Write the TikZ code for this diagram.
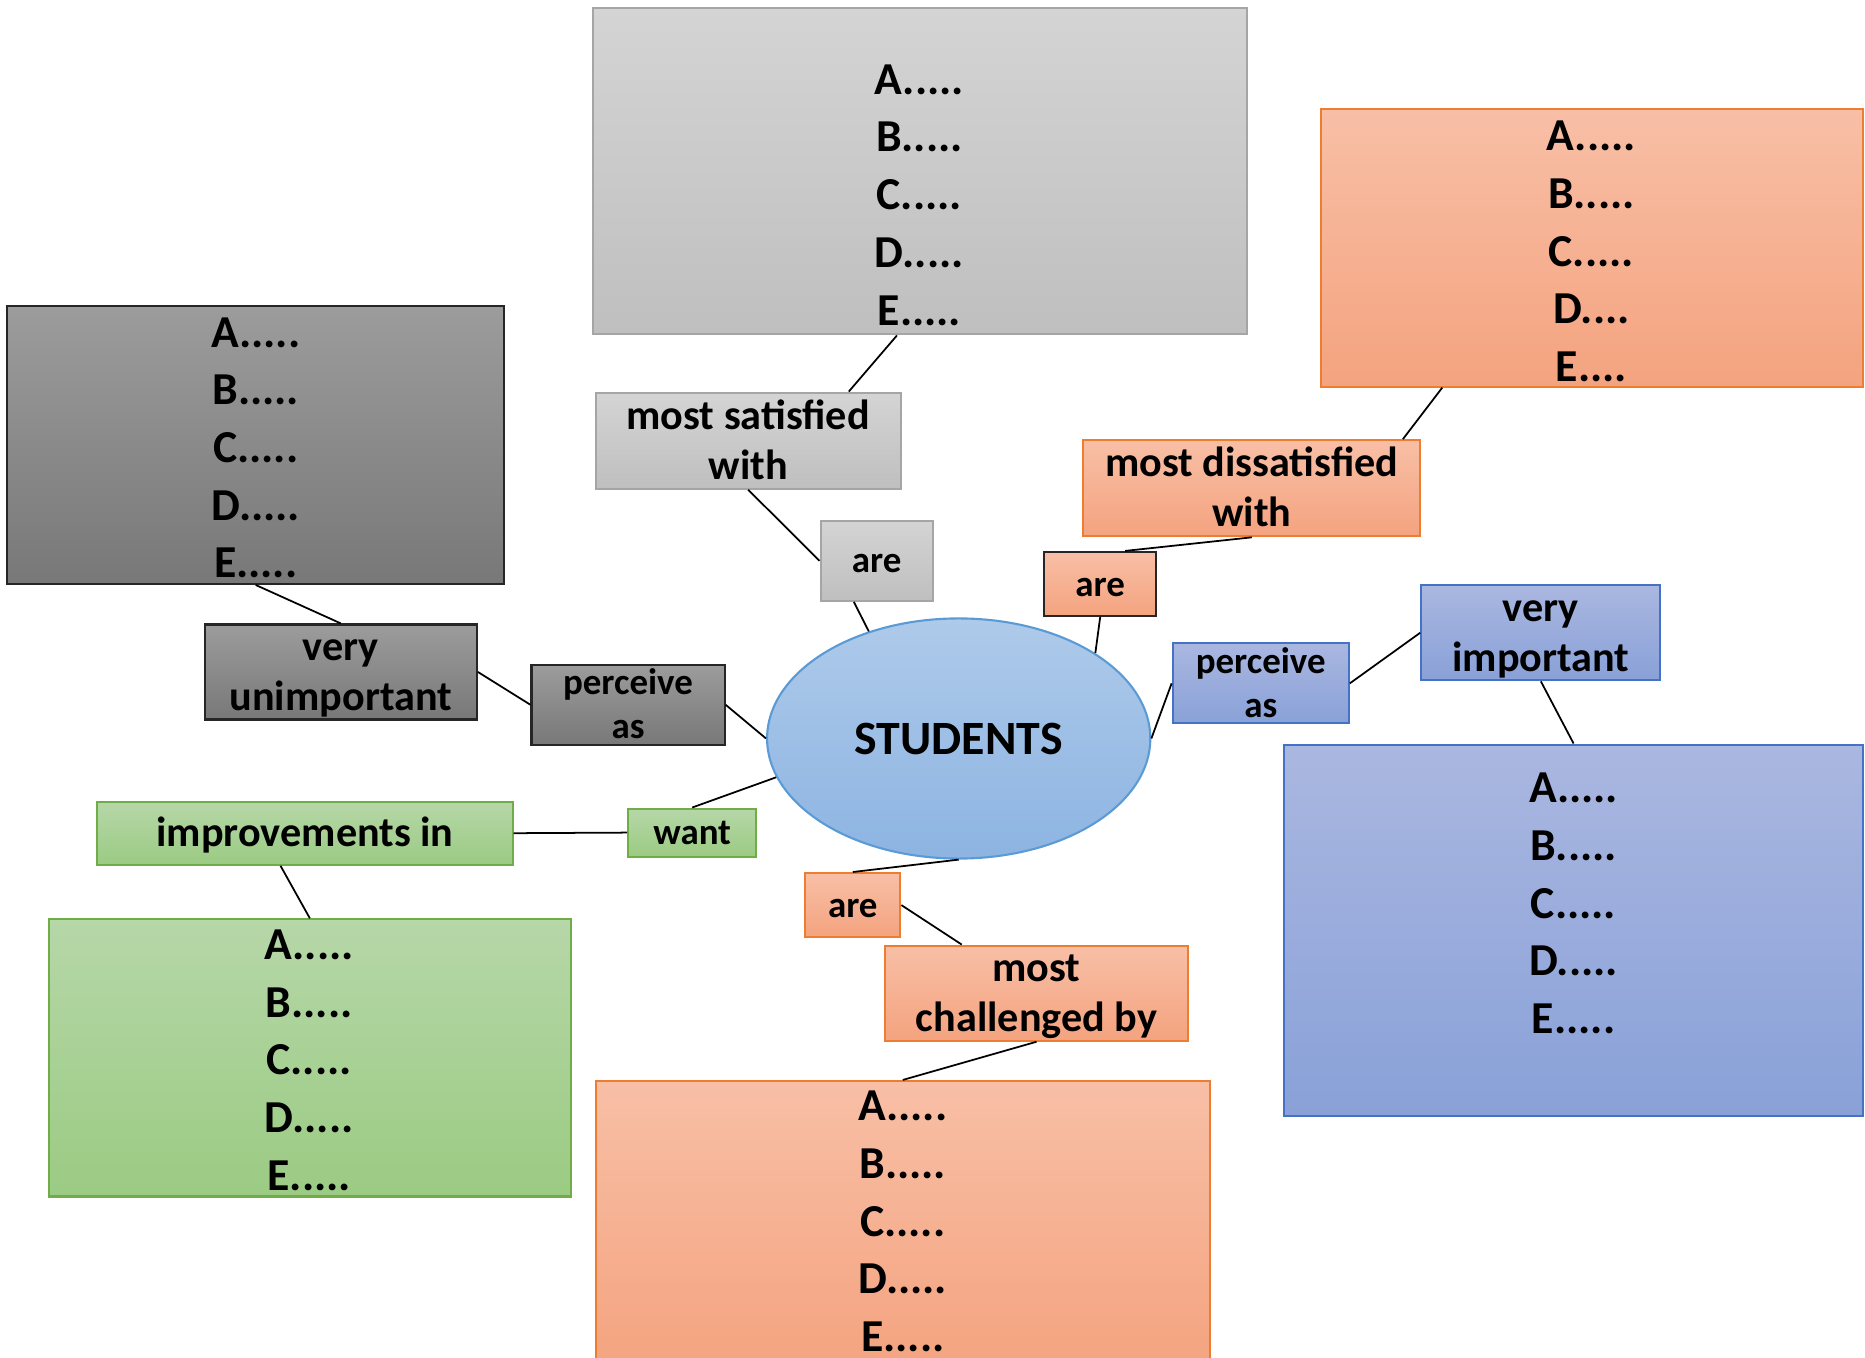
\documentclass[tikz,border=0pt]{standalone}
\usepackage{fontspec}
\setmainfont{Carlito}
\usetikzlibrary{shapes.geometric}

\definecolor{lgtop}{HTML}{D4D4D4}
\definecolor{lgbot}{HTML}{BFBFBF}
\definecolor{lgline}{HTML}{A5A5A5}
\definecolor{dgtop}{HTML}{9C9C9C}
\definecolor{dgbot}{HTML}{787878}
\definecolor{dgline}{HTML}{262626}
\definecolor{ortop}{HTML}{F8BFA6}
\definecolor{orbot}{HTML}{F4A37F}
\definecolor{orline}{HTML}{ED7D31}
\definecolor{bltop}{HTML}{AAB7E0}
\definecolor{blbot}{HTML}{89A1D8}
\definecolor{blline}{HTML}{4472C4}
\definecolor{eltop}{HTML}{AECAEA}
\definecolor{elbot}{HTML}{8DB4E2}
\definecolor{elline}{HTML}{5B9BD5}
\definecolor{grtop}{HTML}{B6D7A8}
\definecolor{grbot}{HTML}{9BCB83}
\definecolor{grline}{HTML}{70AD47}

\begin{document}
\begin{tikzpicture}[x=0.01cm,y=-0.01cm,
  box/.style={rectangle,inner sep=0pt,line width=0.6pt},
  lst/.style={font=\bfseries\fontsize{13}{16.4}\selectfont,align=center,inner sep=0pt},
  lbl/.style={box,font=\bfseries\fontsize{12}{14.2}\selectfont,align=center},
  sml/.style={box,font=\bfseries\fontsize{10.5}{12.5}\selectfont,align=center},
  one/.style={execute at begin node={\rule{0pt}{10.8pt}},execute at end node={\rule[-3pt]{0pt}{0pt}}},
  two/.style={execute at begin node={\rule{0pt}{24.3pt}},execute at end node={\rule[-2.3pt]{0pt}{0pt}}},
  sone/.style={execute at begin node={\rule{0pt}{9.45pt}},execute at end node={\rule[-2.6pt]{0pt}{0pt}}},
  stwo/.style={execute at begin node={\rule{0pt}{21pt}},execute at end node={\rule[-1.65pt]{0pt}{0pt}}},
  lgray/.style={top color=lgtop,bottom color=lgbot,draw=lgline},
  dgray/.style={top color=dgtop,bottom color=dgbot,draw=dgline},
  orng/.style={top color=ortop,bottom color=orbot,draw=orline},
  blue/.style={top color=bltop,bottom color=blbot,draw=blline},
  grn/.style={top color=grtop,bottom color=grbot,draw=grline},
  link/.style={line width=0.5pt}]
  \useasboundingbox (0,0) rectangle (1865,1358);

  % answer boxes
  \node[box,lgray,minimum width=6.53cm,minimum height=3.26cm] (satbox) at (920,171.3) {};
  \node[lst] (sattxt) at (919.4,195) {A.....\\B.....\\C.....\\D.....\\E.....};
  \node[box,orng,minimum width=5.41cm,minimum height=2.77cm] (disbox) at (1592,248) {};
  \node[lst] (distxt) at (1591.4,251.5) {A.....\\B.....\\C.....\\D....\\E....};
  \node[box,dgray,minimum width=4.97cm,minimum height=2.78cm] (darkbox) at (255.7,444.85) {};
  \node[lst] (darktxt) at (255.7,447.8) {A.....\\B.....\\C.....\\D.....\\E.....};
  \node[box,blue,minimum width=5.78cm,minimum height=3.71cm] (bluebox) at (1573.6,930.2) {};
  \node[lst] (bluetxt) at (1573.6,903.4) {A.....\\B.....\\C.....\\D.....\\E.....};
  \node[box,grn,minimum width=5.22cm,minimum height=2.77cm] (greenbox) at (309.85,1057.95) {};
  \node[lst] (greentxt) at (309.2,1060.3) {A.....\\B.....\\C.....\\D.....\\E.....};
  \node[box,orng,minimum width=6.14cm,minimum height=2.91cm] (botbox) at (902.75,1226.6) {};
  \node[lst] (bottxt) at (902.8,1221.5) {A.....\\B.....\\C.....\\D.....\\E.....};

  % centre and relation labels
  \node[ellipse,inner sep=0pt,line width=0.6pt,top color=eltop,bottom color=elbot,draw=elline,
    minimum width=3.83cm,minimum height=2.40cm,font=\bfseries\fontsize{13.6}{16}\selectfont] (stud) at (958.7,738.5) {STUDENTS};
  \node[lbl,two,lgray,minimum width=3.05cm,minimum height=0.96cm] (sat) at (748.15,440.65) {most satisfied\\with};
  \node[sml,sone,lgray,minimum width=1.12cm,minimum height=0.80cm] (are1) at (876.6,560.8) {are};
  \node[lbl,two,orng,minimum width=3.37cm,minimum height=0.96cm] (dis) at (1251.8,488.25) {most dissatisfied\\with};
  \node[sml,sone,orng,draw=dgline,minimum width=1.12cm,minimum height=0.64cm] (are2) at (1100.2,584) {are};
  \node[lbl,two,dgray,minimum width=2.72cm,minimum height=0.95cm] (vu) at (340.8,672) {very\\unimportant};
  \node[sml,stwo,dgray,minimum width=1.93cm,minimum height=0.80cm] (pd) at (628,704.75) {perceive\\as};
  \node[sml,stwo,blue,minimum width=1.76cm,minimum height=0.80cm] (pb) at (1260.75,683.35) {perceive\\as};
  \node[lbl,two,blue,minimum width=2.39cm,minimum height=0.95cm] (vi) at (1540.85,632.75) {very\\important};
  \node[sml,sone,grn,minimum width=1.28cm,minimum height=0.48cm] (want) at (692.2,832.6) {want};
  \node[lbl,one,grn,minimum width=4.15cm,minimum height=0.63cm] (imp) at (305.05,833.2) {improvements in};
  \node[sml,sone,orng,minimum width=0.95cm,minimum height=0.64cm] (are3) at (852.8,905.1) {are};
  \node[lbl,two,orng,minimum width=3.03cm,minimum height=0.95cm] (chal) at (1036.55,993.15) {most\\challenged by};

  % links
  \draw[link] (satbox.-98.5) -- (sat.26.7);
  \draw[link] (sat.south) -- (are1.west);
  \draw[link] (are1.-119.6) -- (stud.130);
  \draw[link] (disbox.-137.6) -- (dis.18);
  \draw[link] (dis.south) -- (are2.53);
  \draw[link] (are2.south) -- (stud.32);
  \draw[link] (darkbox.south) -- (vu.north);
  \draw[link] (vu.east) -- (pd.west);
  \draw[link] (pd.east) -- (stud.west);
  \draw[link] (stud.east) -- (pb.west);
  \draw[link] (pb.east) -- (vi.west);
  \draw[link] (vi.south) -- (bluebox.north);
  \draw[link] (stud.-168) -- (want.north);
  \draw[link] (want.west) -- (imp.east);
  \draw[link] (imp.-127.6) -- (greenbox.north);
  \draw[link] (stud.south) -- (are3.north);
  \draw[link] (are3.east) -- (chal.147);
  \draw[link] (chal.south) -- (botbox.north);
\end{tikzpicture}
\end{document}
